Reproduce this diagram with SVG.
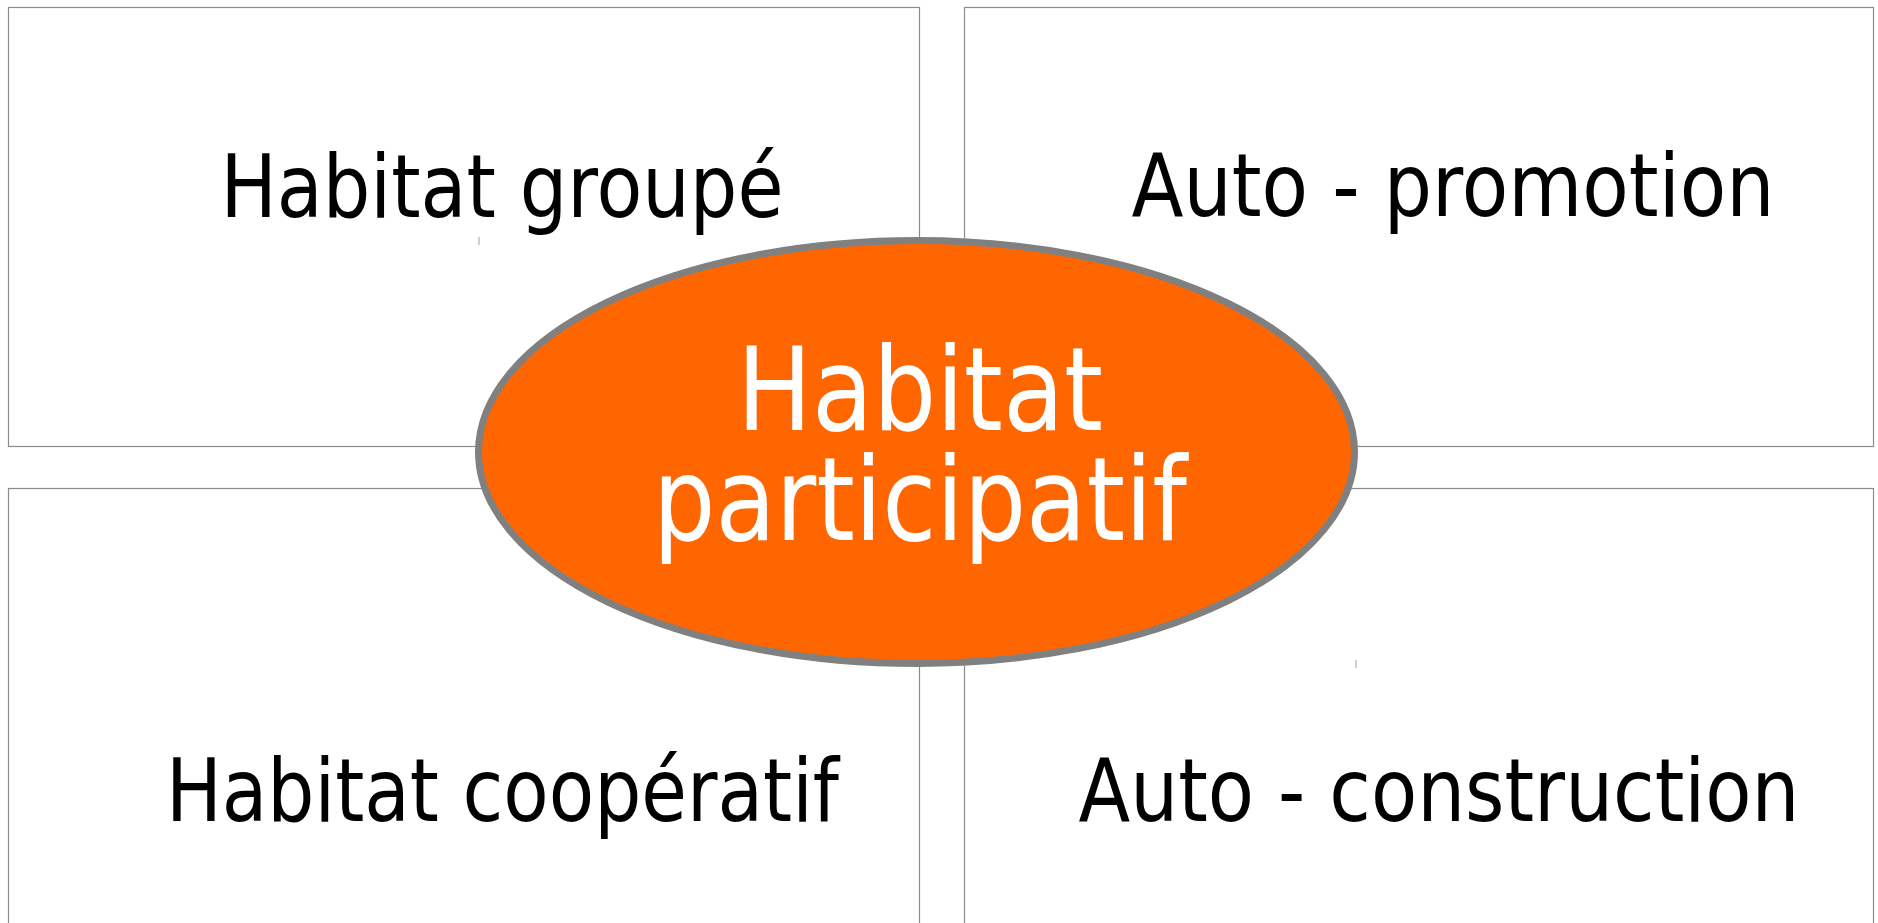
<svg xmlns="http://www.w3.org/2000/svg" width="1878" height="923" viewBox="0 0 1878 923">
<style>
.box{fill:#ffffff;stroke:#8c8c8c;stroke-width:1.2}
.lbl{font-family:"DejaVu Sans","Liberation Sans",sans-serif;font-size:87px;fill:#000000;text-anchor:middle}
.ctr{font-family:"DejaVu Sans","Liberation Sans",sans-serif;font-size:115px;fill:#ffffff;text-anchor:middle}
.tick{stroke:#a0a0a0;stroke-width:1}
</style>
<rect x="0" y="0" width="1878" height="923" fill="#ffffff"/>
<g id="habitat-groupe">
<rect class="box" x="8.5" y="7.5" width="911" height="439"/>
<text class="lbl" x="502" y="217" textLength="563" lengthAdjust="spacingAndGlyphs">Habitat groupé</text>
</g>
<g id="auto-promotion">
<rect class="box" x="964.5" y="7.5" width="909" height="439"/>
<text class="lbl" x="1453" y="216" textLength="643" lengthAdjust="spacingAndGlyphs">Auto - promotion</text>
</g>
<g id="habitat-cooperatif">
<rect class="box" x="8.5" y="488.5" width="911" height="450"/>
<text class="lbl" x="502.5" y="821" textLength="673" lengthAdjust="spacingAndGlyphs">Habitat coopératif</text>
</g>
<g id="auto-construction">
<rect class="box" x="964.5" y="488.5" width="909" height="450"/>
<text class="lbl" x="1439" y="821" textLength="721" lengthAdjust="spacingAndGlyphs">Auto - construction</text>
</g>
<g id="habitat-participatif">
<ellipse cx="916.5" cy="452" rx="438" ry="211.5" fill="#ff6600" stroke="#808080" stroke-width="7"/>
<text class="ctr" x="920" y="430" textLength="366" lengthAdjust="spacingAndGlyphs">Habitat</text>
<text class="ctr" x="920" y="540" textLength="534" lengthAdjust="spacingAndGlyphs">participatif</text>
</g>
<g id="marks">
<line class="tick" x1="479" y1="237" x2="479" y2="245"/>
<line class="tick" x1="1356" y1="660" x2="1356" y2="668"/>
</g>
</svg>
